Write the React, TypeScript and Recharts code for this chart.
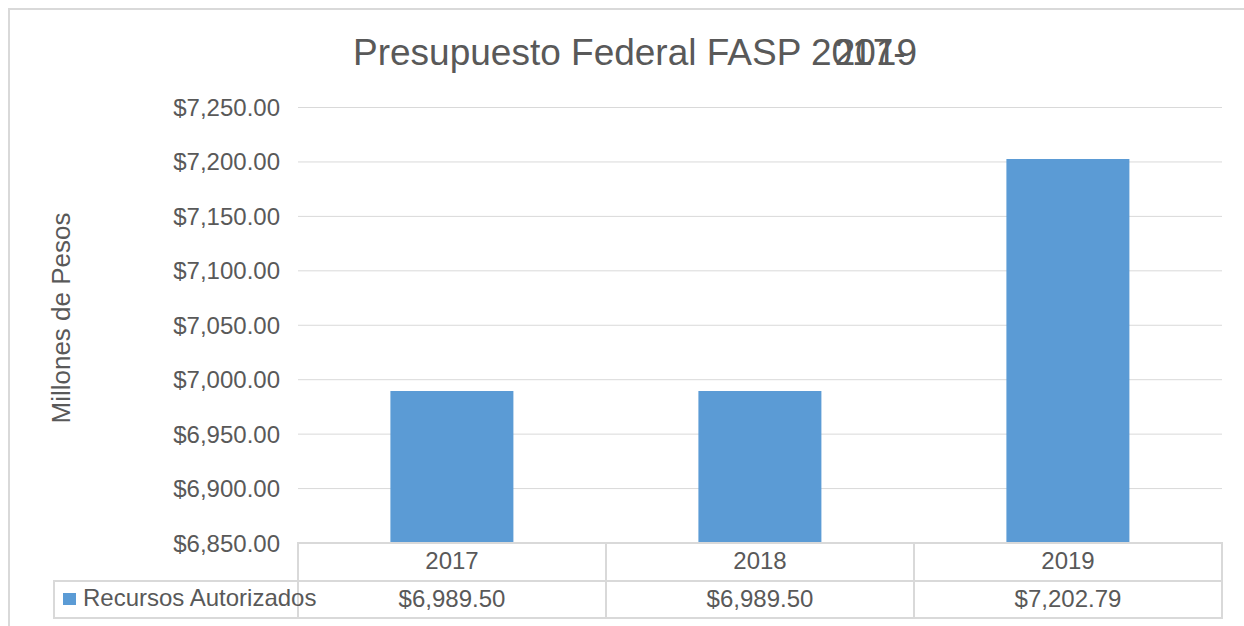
import { Bar, BarChart, CartesianGrid, Customized, XAxis, YAxis } from "recharts";

const years = ["2017", "2018", "2019"];
const recursos = [6989.5, 6989.5, 7202.79];
const yTicks = [6850, 6900, 6950, 7000, 7050, 7100, 7150, 7200, 7250];

const data = years.map((year, i) => ({ year, recursos: recursos[i] }));

if (typeof document !== "undefined") {
  document.documentElement.style.overflow = "hidden";
  document.body.style.overflow = "hidden";
}

const FONT = "'Liberation Sans', Arial, sans-serif";
const TEXT = "#595959";
const LINE = "#d9d9d9";
const BLUE = "#5b9bd5";
const CELL_W = 308;
const ROW1 = 38;
const ROW2 = 37;

const money = (v: number) =>
  "$" + v.toLocaleString("en-US", { minimumFractionDigits: 2, maximumFractionDigits: 2 });

// x-axis ticks draw the data table under the plot (year row + value row)
function TableTick(props: any) {
  const { x, y, payload, index } = props;
  const left = x - CELL_W / 2;
  return (
    <g>
      <rect x={left} y={y} width={CELL_W} height={ROW1} fill="none" stroke={LINE} strokeWidth={2} />
      <rect x={left} y={y + ROW1} width={CELL_W} height={ROW2} fill="none" stroke={LINE} strokeWidth={2} />
      <text x={x} y={y + 26} textAnchor="middle" fill={TEXT} fontSize={24} fontFamily={FONT}>
        {payload.value}
      </text>
      <text x={x} y={y + ROW1 + 26} textAnchor="middle" fill={TEXT} fontSize={24} fontFamily={FONT}>
        {money(recursos[index])}
      </text>
      {index === 0 && (
        <g>
          <rect x={left - 244} y={y + ROW1} width={244} height={ROW2} fill="none" stroke={LINE} strokeWidth={2} />
          <rect x={left - 235} y={y + ROW1 + 12} width={13} height={12} fill={BLUE} />
          <text x={left - 215} y={y + ROW1 + 25} fill={TEXT} fontSize={24} fontFamily={FONT}>
            Recursos Autorizados
          </text>
        </g>
      )}
    </g>
  );
}

function Title() {
  return (
    <g>
      <text x={343} y={55} fill={TEXT} fontSize={37} fontFamily={FONT}>
        Presupuesto Federal FASP 2017-
      </text>
      <text x={907} y={55} textAnchor="end" fill={TEXT} fontSize={37} fontFamily={FONT}>
        2019
      </text>
    </g>
  );
}

function YLabel() {
  return (
    <text
      x={60}
      y={308}
      transform="rotate(-90 60 308)"
      textAnchor="middle"
      fill={TEXT}
      fontSize={26}
      fontFamily={FONT}
    >
      Millones de Pesos
    </text>
  );
}

export default function App() {
  return (
    <div
      style={{
        position: "fixed",
        left: 8,
        top: 8,
        width: 1236,
        height: 618,
        overflow: "hidden",
        borderTop: `2px solid ${LINE}`,
        borderLeft: `2px solid ${LINE}`,
        background: "#fff",
      }}
    >
      <BarChart
        width={1250}
        height={640}
        data={data}
        margin={{ top: 97.5, right: 38, left: 0, bottom: 32 }}
        barCategoryGap="30%"
      >
        <CartesianGrid vertical={false} stroke={LINE} />
        <XAxis
          dataKey="year"
          height={75}
          axisLine={false}
          tickLine={false}
          tickSize={0}
          tickMargin={0}
          tick={<TableTick />}
        />
        <YAxis
          width={288}
          domain={[6850, 7250]}
          ticks={yTicks}
          axisLine={false}
          tickLine={false}
          tickSize={0}
          tickMargin={18}
          tickFormatter={money}
          tick={{ fill: TEXT, fontSize: 24, fontFamily: FONT }}
          label={<YLabel />}
        />
        <Bar dataKey="recursos" fill={BLUE} isAnimationActive={false} />
        <Customized component={Title} />
      </BarChart>
    </div>
  );
}
